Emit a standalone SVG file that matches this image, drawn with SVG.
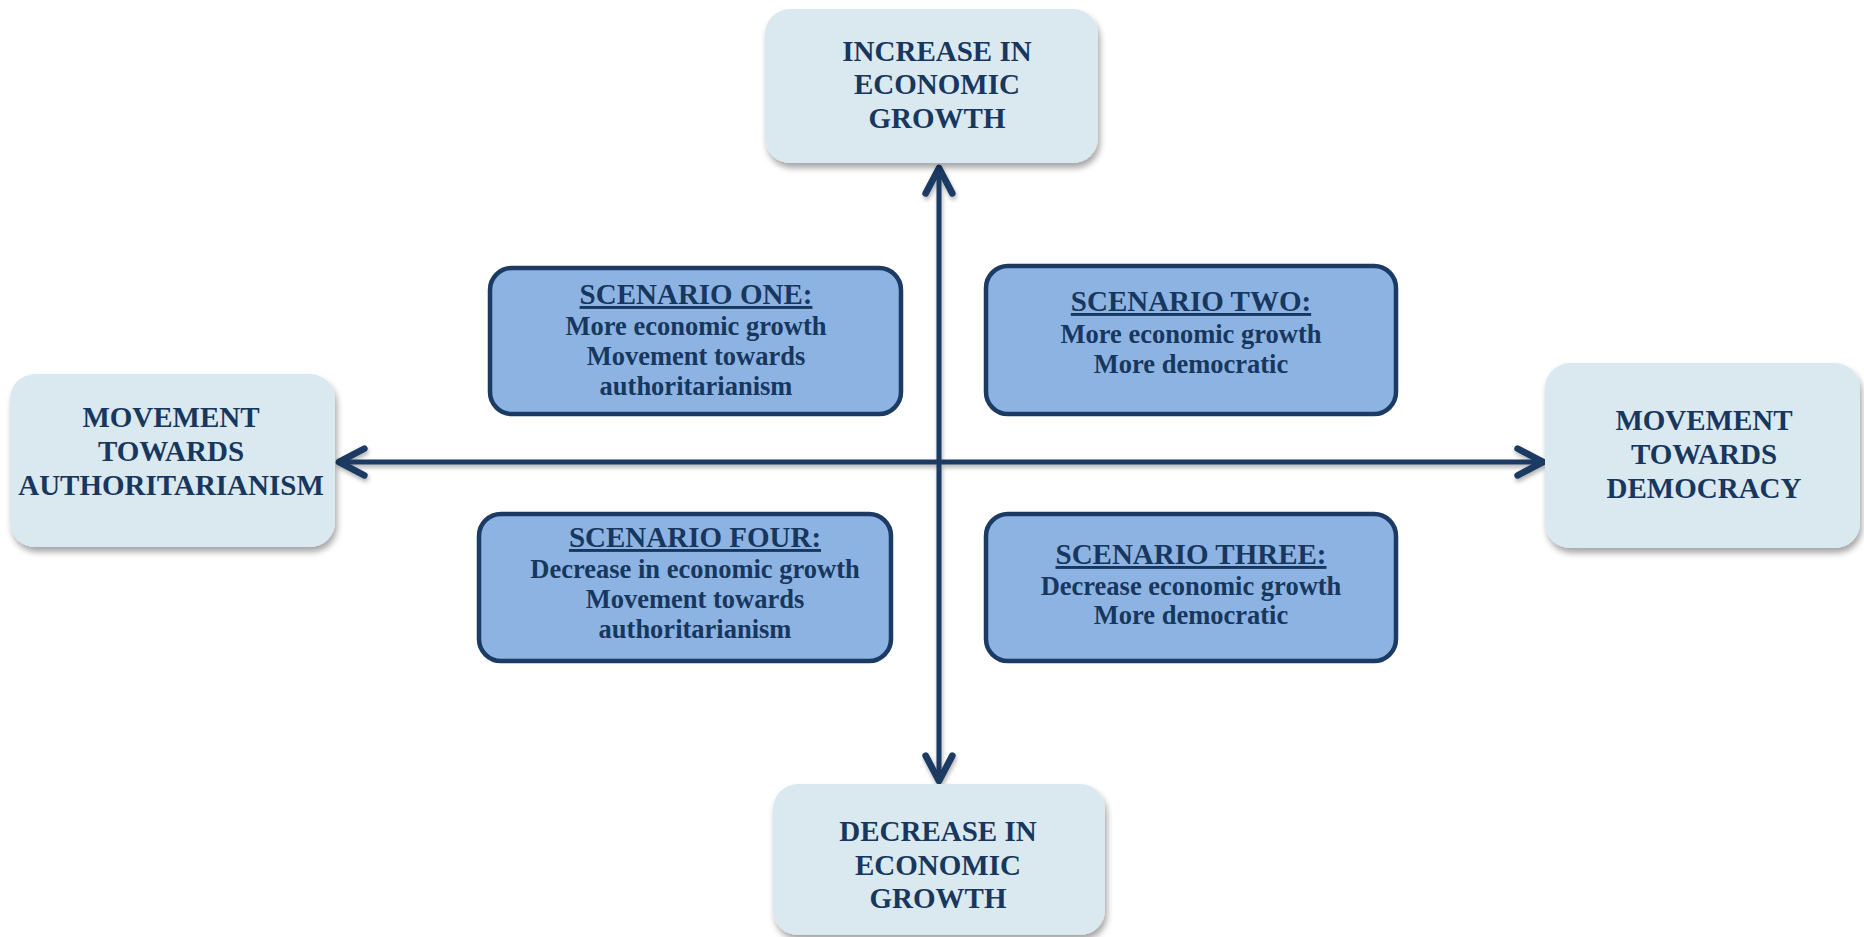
<svg xmlns="http://www.w3.org/2000/svg" width="1864" height="937" viewBox="0 0 1864 937">
<defs>
<filter id="sh" x="-10%" y="-10%" width="125%" height="130%">
<feDropShadow dx="2" dy="5" stdDeviation="3" flood-color="#000" flood-opacity="0.35"/>
</filter>
<filter id="lsh" x="-5%" y="-5%" width="110%" height="110%">
<feDropShadow dx="1" dy="3" stdDeviation="2" flood-color="#000" flood-opacity="0.3"/>
</filter>
<marker id="arr" markerUnits="userSpaceOnUse" markerWidth="40" markerHeight="40" viewBox="-25 -15 30 30" refX="0" refY="0" orient="auto-start-reverse" overflow="visible">
<path d="M-19,-10 L0,0 L-19,10" fill="none" stroke="#1B3A64" stroke-width="5" stroke-linecap="round" stroke-linejoin="round"/>
</marker>
<style>
.axis{fill:#DAE8EF;stroke:none;filter:url(#sh)}
.scen{fill:#8DB3E2;stroke:#1B3A64;stroke-width:4.5}
.t{font-family:"Liberation Serif","Times New Roman",serif;font-weight:bold;fill:#17375E;text-anchor:middle}
.big{font-size:29px}
.hd{font-size:29px;text-decoration:underline}
.bd{font-size:26.5px}
.ln{stroke:#1B3A64;stroke-width:5;fill:none}
</style>
</defs>
<rect width="1864" height="937" fill="#FFFFFF"/>

<g id="connectors" filter="url(#lsh)">
<line class="ln" x1="939" y1="168" x2="939" y2="781" marker-start="url(#arr)" marker-end="url(#arr)"/>
<line class="ln" x1="339" y1="462" x2="1543" y2="462" marker-start="url(#arr)" marker-end="url(#arr)"/>
</g>

<g id="node-increase">
<rect class="axis" x="765" y="9" width="333" height="154" rx="25"/>
<text class="t big" x="937" y="61">INCREASE IN</text>
<text class="t big" x="937" y="94">ECONOMIC</text>
<text class="t big" x="937" y="128">GROWTH</text>
</g>

<g id="node-decrease">
<rect class="axis" x="773" y="784" width="332" height="151" rx="25"/>
<text class="t big" x="938" y="841">DECREASE IN</text>
<text class="t big" x="938" y="875">ECONOMIC</text>
<text class="t big" x="938" y="908">GROWTH</text>
</g>

<g id="node-authoritarianism">
<rect class="axis" x="10" y="374" width="325" height="173" rx="25"/>
<text class="t big" x="171" y="427">MOVEMENT</text>
<text class="t big" x="171" y="461">TOWARDS</text>
<text class="t big" x="171" y="495">AUTHORITARIANISM</text>
</g>

<g id="node-democracy">
<rect class="axis" x="1545" y="363" width="315" height="185" rx="25"/>
<text class="t big" x="1704" y="430">MOVEMENT</text>
<text class="t big" x="1704" y="464">TOWARDS</text>
<text class="t big" x="1704" y="498">DEMOCRACY</text>
</g>

<g id="node-scenario-one">
<rect class="scen" x="490" y="268" width="411" height="146" rx="22"/>
<text class="t hd" x="696" y="304">SCENARIO ONE:</text>
<text class="t bd" x="696" y="335">More economic growth</text>
<text class="t bd" x="696" y="365">Movement towards</text>
<text class="t bd" x="696" y="395">authoritarianism</text>
</g>

<g id="node-scenario-two">
<rect class="scen" x="986" y="266" width="410" height="148" rx="22"/>
<text class="t hd" x="1191" y="311">SCENARIO TWO:</text>
<text class="t bd" x="1191" y="343">More economic growth</text>
<text class="t bd" x="1191" y="373">More democratic</text>
</g>

<g id="node-scenario-four">
<rect class="scen" x="479" y="514" width="412" height="147" rx="22"/>
<text class="t hd" x="695" y="547">SCENARIO FOUR:</text>
<text class="t bd" x="695" y="578">Decrease in economic growth</text>
<text class="t bd" x="695" y="608">Movement towards</text>
<text class="t bd" x="695" y="638">authoritarianism</text>
</g>

<g id="node-scenario-three">
<rect class="scen" x="986" y="514" width="410" height="147" rx="22"/>
<text class="t hd" x="1191" y="564">SCENARIO THREE:</text>
<text class="t bd" x="1191" y="595">Decrease economic growth</text>
<text class="t bd" x="1191" y="624">More democratic</text>
</g>
</svg>
